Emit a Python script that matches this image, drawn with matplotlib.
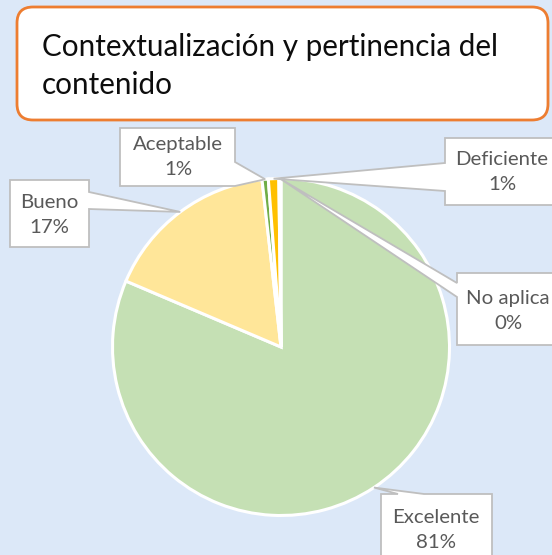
import matplotlib
matplotlib.use("Agg")
import matplotlib.pyplot as plt
import numpy as np
from matplotlib.patches import FancyBboxPatch, Polygon

# ---- data ----
categories = ["Excelente", "Bueno", "Aceptable", "Deficiente", "No aplica"]
values = [81.4, 16.8, 0.6, 1.0, 0.2]
colors = ["#C5E0B4", "#FFE699", "#70AD47", "#FFC000", "#A5A5A5"]
title = "Contextualización y pertinencia del\ncontenido"

# ---- layout (pixel coordinates, top-down) ----
W, H = 552, 555
BG = "#DCE8F8"
cx, cy, r = 281, 347, 168.5

# label boxes: (x0, y0, x1, y1), side of pointer, pointer base (a, b), text centre
label_layout = {
    "Excelente": ((381, 494, 492, 580), "top", (398, 424), (436, 530)),
    "Bueno": ((10, 180, 89, 247), "right", (192, 209), (49, 215)),
    "Aceptable": ((120, 128, 235, 186), "right", (162, 186), (178, 157)),
    "Deficiente": ((445, 138, 565, 205), "left", (163, 191), (502, 172)),
    "No aplica": ((457, 273, 565, 345), "left", (283, 297), (508, 311)),
}

plt.rcParams['font.family'] = ['Lato', 'DejaVu Sans']

fig = plt.figure(figsize=(W / 100, H / 100), dpi=100)
fig.patch.set_facecolor(BG)
ax = fig.add_axes([0, 0, 1, 1])
ax.set_facecolor(BG)


def Y(y):
    return H - y


wedges, _ = ax.pie(values, colors=colors, startangle=90, counterclock=False,
                   radius=r, center=(cx, Y(cy)),
                   wedgeprops=dict(edgecolor="white", linewidth=2.2))
ax.set_xlim(0, W)
ax.set_ylim(0, H)
ax.set_aspect("equal")
ax.axis("off")

# title box
tb = FancyBboxPatch((17, Y(120)), 531, 113,
                    boxstyle="round,pad=0,rounding_size=16",
                    facecolor="white", edgecolor="#ED7D31", linewidth=2,
                    transform=ax.transData, clip_on=False, zorder=5)
ax.add_patch(tb)
ax.text(42, Y(66), title, ha="left", va="center", fontsize=21.3,
        color="#0D0D0D", linespacing=1.47, zorder=6)

# callout labels
for cat, val, w in zip(categories, values, wedges):
    (x0, y0, x1, y1), side, (a, b), (tx, ty) = label_layout[cat]
    mid = np.deg2rad((w.theta1 + w.theta2) / 2)
    tip = (cx + r * np.cos(mid), Y(cy) + r * np.sin(mid))
    if side == "top":
        pts = [(x0, y0), (a, y0), None, (b, y0), (x1, y0), (x1, y1), (x0, y1)]
    elif side == "right":
        pts = [(x0, y0), (x1, y0), (x1, a), None, (x1, b), (x1, y1), (x0, y1)]
    elif side == "bottom":
        pts = [(x0, y0), (x1, y0), (x1, y1), (b, y1), None, (a, y1), (x0, y1)]
    else:
        pts = [(x0, y0), (x1, y0), (x1, y1), (x0, y1), (x0, b), None, (x0, a)]
    poly = [tip if p is None else (p[0], Y(p[1])) for p in pts]
    ax.add_patch(Polygon(poly, closed=True, facecolor="white",
                         edgecolor="#BFBFBF", linewidth=1.3,
                         joinstyle="miter", clip_on=False, zorder=7))
    ax.text(tx, Y(ty), f"{cat}\n{val:.0f}%", ha="center", va="center",
            fontsize=14.7, color="#595959", linespacing=1.57, zorder=8,
            clip_on=False)

fig.savefig("out.png", dpi=100, facecolor=BG)
